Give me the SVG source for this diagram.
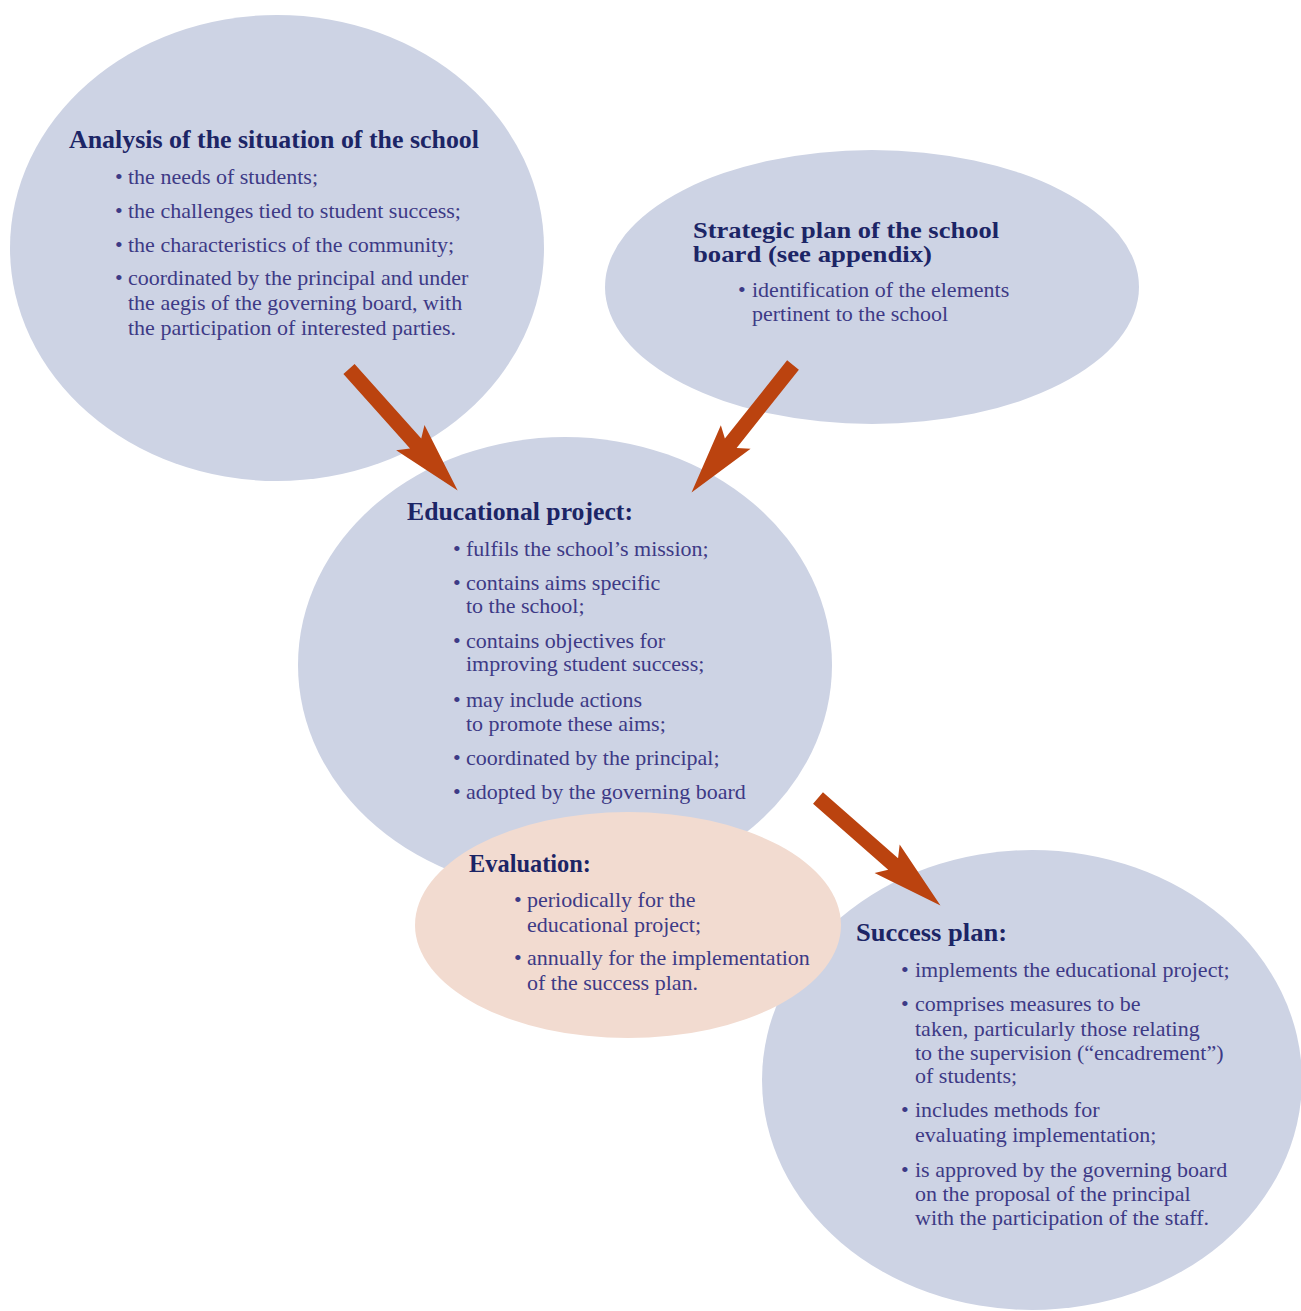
<svg xmlns="http://www.w3.org/2000/svg" width="1301" height="1311" viewBox="0 0 1301 1311">
<style>
.blob{fill:#cdd3e4}
.eval{fill:#f2dbd0}
.t{font-family:"Liberation Serif","Times New Roman",serif;font-weight:bold;font-size:26px;fill:#1c2566}
.t2{font-size:23px}
.b{font-family:"Liberation Serif","Times New Roman",serif;font-size:22px;fill:#3d3a86}
.arrow{fill:#bb430f}
</style>
<defs>
<path id="arr" d="M0,-7.5 L100,-7.5 L92,-19 L163,0 L92,19 L100,7.5 L0,7.5 Z"/>
</defs>
<rect width="1301" height="1311" fill="#ffffff"/>
<g id="node-analysis">
<ellipse class="blob" cx="277" cy="248" rx="267" ry="233"/>
<text class="t" x="69" y="148" textLength="410" lengthAdjust="spacingAndGlyphs">Analysis of the situation of the school</text>
<text class="b"><tspan x="115" y="184">•</tspan><tspan x="128" y="184">the needs of students;</tspan><tspan x="115" y="218">•</tspan><tspan x="128" y="218">the challenges tied to student success;</tspan><tspan x="115" y="252">•</tspan><tspan x="128" y="252">the characteristics of the community;</tspan><tspan x="115" y="285">•</tspan><tspan x="128" y="285">coordinated by the principal and under</tspan><tspan x="128" y="310">the aegis of the governing board, with</tspan><tspan x="128" y="335">the participation of interested parties.</tspan></text>
</g>
<g id="node-strategic">
<ellipse class="blob" cx="872" cy="287" rx="267" ry="137"/>
<text class="t t2" x="693" y="238" textLength="306" lengthAdjust="spacingAndGlyphs">Strategic plan of the school</text>
<text class="t t2" x="693" y="262" textLength="239" lengthAdjust="spacingAndGlyphs">board (see appendix)</text>
<text class="b"><tspan x="738" y="297">•</tspan><tspan x="752" y="297">identification of the elements</tspan><tspan x="752" y="321">pertinent to the school</tspan></text>
</g>
<g id="node-success">
<ellipse class="blob" cx="1032" cy="1080" rx="270" ry="230"/>
<text class="t" x="856" y="941" textLength="151" lengthAdjust="spacingAndGlyphs">Success plan:</text>
<text class="b"><tspan x="901" y="977">•</tspan><tspan x="915" y="977">implements the educational project;</tspan><tspan x="901" y="1011">•</tspan><tspan x="915" y="1011">comprises measures to be</tspan><tspan x="915" y="1036">taken, particularly those relating</tspan><tspan x="915" y="1060">to the supervision (“encadrement”)</tspan><tspan x="915" y="1083">of students;</tspan><tspan x="901" y="1117">•</tspan><tspan x="915" y="1117">includes methods for</tspan><tspan x="915" y="1142">evaluating implementation;</tspan><tspan x="901" y="1177">•</tspan><tspan x="915" y="1177">is approved by the governing board</tspan><tspan x="915" y="1201">on the proposal of the principal</tspan><tspan x="915" y="1225">with the participation of the staff.</tspan></text>
</g>
<g id="node-educational">
<ellipse class="blob" cx="565" cy="665" rx="267" ry="228"/>
<text class="t" x="407" y="520" textLength="226" lengthAdjust="spacingAndGlyphs">Educational project:</text>
<text class="b"><tspan x="453" y="556">•</tspan><tspan x="466" y="556">fulfils the school’s mission;</tspan><tspan x="453" y="590">•</tspan><tspan x="466" y="590">contains aims specific</tspan><tspan x="466" y="613">to the school;</tspan><tspan x="453" y="648">•</tspan><tspan x="466" y="648">contains objectives for</tspan><tspan x="466" y="671">improving student success;</tspan><tspan x="453" y="707">•</tspan><tspan x="466" y="707">may include actions</tspan><tspan x="466" y="731">to promote these aims;</tspan><tspan x="453" y="765">•</tspan><tspan x="466" y="765">coordinated by the principal;</tspan><tspan x="453" y="799">•</tspan><tspan x="466" y="799">adopted by the governing board</tspan></text>
</g>
<g id="node-evaluation">
<ellipse class="eval" cx="628" cy="925" rx="213" ry="113"/>
<text class="t" x="469" y="872" textLength="122" lengthAdjust="spacingAndGlyphs">Evaluation:</text>
<text class="b"><tspan x="514" y="907">•</tspan><tspan x="527" y="907">periodically for the</tspan><tspan x="527" y="932">educational project;</tspan><tspan x="514" y="965">•</tspan><tspan x="527" y="965">annually for the implementation</tspan><tspan x="527" y="990">of the success plan.</tspan></text>
</g>
<g id="connectors">
<use href="#arr" class="arrow" transform="translate(349,369) rotate(48.2)"/>
<use href="#arr" class="arrow" transform="translate(793,365) rotate(128.5)"/>
<use href="#arr" class="arrow" transform="translate(818,798) rotate(41.3)"/>
</g>
</svg>
